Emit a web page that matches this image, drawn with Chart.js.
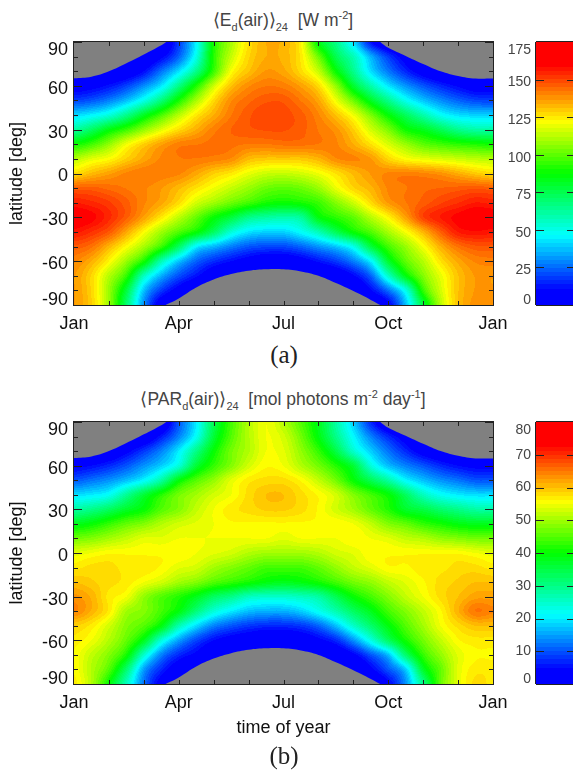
<!DOCTYPE html>
<html>
<head>
<meta charset="utf-8">
<title>Ed and PAR by latitude and time of year</title>
<script src="https://cdn.jsdelivr.net/npm/chart.js@4/dist/chart.umd.js"></script>
<style>
    html, body { margin: 0; padding: 0; background: #fff; overflow: hidden; }
    body { width: 573px; height: 772px; position: relative; font-family: "Liberation Sans", sans-serif; }
    canvas { position: absolute; display: block; }
    .title { position: absolute; left: 0; width: 566px; text-align: center; font-size: 17.5px; color: #444; white-space: nowrap; }
    .title sub, .title sup { font-size: 11px; line-height: 0; }
    .caption { position: absolute; left: 0; width: 568px; text-align: center; font-family: "Liberation Serif", serif; font-size: 25px; color: #222; }
</style>
</head>
<body>
<div class="title" style="top:10px">&#10216;E<sub>d</sub>(air)&#10217;<sub>24</sub>&nbsp;&nbsp;[W m<sup>-2</sup>]</div>
<canvas id="edChart" width="573" height="340" style="left:0;top:0"></canvas>
<canvas id="edBar" width="73" height="340" style="left:500px;top:0"></canvas>
<div class="caption" style="top:341px">(a)</div>

<div class="title" style="top:389px">&#10216;PAR<sub>d</sub>(air)&#10217;<sub>24</sub>&nbsp;&nbsp;[mol photons m<sup>-2</sup> day<sup>-1</sup>]</div>
<canvas id="parChart" width="573" height="363" style="left:0;top:380px"></canvas>
<canvas id="parBar" width="73" height="339" style="left:500px;top:380px"></canvas>
<div class="caption" style="top:742px">(b)</div>

<script>
// months at half month steps, latitudes from north to south
const monthGrid = [0, 0.5, 1, 1.5, 2, 2.5, 3, 3.5, 4, 4.5, 5, 5.5, 6, 6.5, 7, 7.5, 8, 8.5, 9, 9.5, 10, 10.5, 11, 11.5, 12];
const latGrid = [90, 80, 70, 60, 50, 40, 30, 20, 10, 0, -10, -20, -30, -40, -50, -60, -70, -80, -90];

const monthLabels = ['Jan', 'Apr', 'Jul', 'Oct', 'Jan'];
const monthTicks = [1, 2, 3, 4, 5, 6, 7, 8, 9, 10, 11];
const latTicks = [90, 60, 30, 0, -30, -60, -90];
const latMinorTicks = [80, 70, 50, 40, 20, 10, -10, -20, -40, -50, -70, -80];
const edBarTicks = [0, 25, 50, 75, 100, 125, 150, 175];
const parBarTicks = [0, 10, 20, 30, 40, 50, 60, 70, 80];

// one row per latitude, W m-2
const edValues = [
    [0,0,0,0,0,0,18,45,90,110,126,134,133,123,85,66,42,12,0,0,0,0,0,0,0],
    [0,0,0,0,2,9,24,50,92,114,128,134,133,125,102,75,58,35,18,7,0,0,0,0,0],
    [0,0,1,3,11,26,42,65,95,121,131,137,135,127,114,88,65,42,27,15,6,1,0,0,0],
    [6,8,12,19,30,43,66,91,115,131,139,142,141,136,127,107,80,60,43,31,22,15,10,6,6],
    [19,22,28,37,50,68,90,110,127,139,144,147,147,142,135,120,102,82,65,49,38,30,24,20,19],
    [41,45,52,65,82,97,112,125,134,142,147,150,149,146,140,131,120,104,87,73,60,48,42,40,40],
    [62,72,85,95,107,118,127,134,141,145,147,148,148,146,142,138,129,116,104,89,83,74,65,61,61],
    [89,96,107,120,129,136,141,142,143,143,142,142,143,143,142,140,134,126,117,108,100,96,93,91,89],
    [112,118,122,129,135,140,142,142,141,139,132,130,130,130,133,139,140,137,128,122,119,117,115,113,112],
    [127,132,136,140,142,141,140,135,129,125,119,115,114,116,120,126,132,137,140,141,140,138,134,130,127],
    [146,146,144,142,140,137,132,126,120,114,108,102,100,102,108,119,128,133,140,142,144,145,146,147,146],
    [156,154,151,146,140,135,127,116,109,102,96,90,88,90,95,105,115,127,137,142,146,150,153,156,155],
    [163,160,154,146,136,125,113,101,88,78,66,62,60,63,85,93,100,112,123,136,150,156,160,163,162],
    [157,153,147,135,122,109,98,88,72,53,43,40,40,47,58,74,88,98,110,121,133,146,156,158,157],
    [147,143,133,122,110,95,72,45,36,28,22,20,20,24,31,38,50,77,96,108,121,134,143,147,147],
    [140,134,123,108,90,59,38,24,16,11,7,4,4,7,12,18,28,45,80,100,112,126,135,140,141],
    [137,128,112,94,57,35,21,12,4,0,0,0,0,0,0,3,10,24,55,85,105,119,131,137,137],
    [137,128,108,78,38,18,7,0,0,0,0,0,0,0,0,0,1,10,26,50,94,116,131,137,137],
    [137,129,108,70,30,4,0,0,0,0,0,0,0,0,0,0,0,0,8,37,78,112,131,138,138]
];

// same grid, mol photons m-2 day-1
const parValues = [
    [0,0,0,0,0,0,10,20,34,44,51,55,51,45,38,28,18,7,0,0,0,0,0,0,0],
    [0,0,0,0,1,6,13,22,36,45,51,55,53,47,39,30,21,13,7,3,0,0,0,0,0],
    [0,0,1,4,8,13,20,30,40,47,51,55,54,49,43,35,25,18,12,7,3,1,0,0,0],
    [4,5,7,10,14,18,24,36,43,48,53,56,55,51,47,42,36,24,17,13,10,7,5,4,4],
    [10,12,14,17,21,28,39,45,49,54,57,58,58,56,52,47,40,34,28,21,17,14,12,10,10],
    [19,20,22,29,36,42,47,50,53,55,58,60,60,58,56,53,48,44,40,33,26,22,20,19,19],
    [28,30,33,37,40,45,48,52,55,57,58,59,59,58,56,53,50,46,42,37,35,32,30,28,28],
    [38,40,43,46,48,51,53,54,55,56,56,56,56,56,56,56,55,52,48,46,43,41,39,38,38],
    [47,48,50,52,54,54,55,55,55,55,55,55,54,55,55,55,56,55,54,52,51,49,48,47,47],
    [54,55,56,56,56,56,56,55,54,53,51,50,50,50,51,53,54,56,56,56,56,56,56,55,54],
    [57,58,58,57,57,56,54,53,50,48,46,44,44,44,46,49,52,54,56,56,57,57,58,58,57],
    [60,59,58,57,55,53,50,48,45,43,41,39,38,39,41,44,47,49,52,54,56,58,59,60,60],
    [63,61,57,55,49,45,42,38,33,30,26,25,25,26,28,34,40,44,48,52,55,58,60,62,62],
    [64,61,57,50,48,44,39,31,24,20,17,16,16,18,22,27,33,38,44,48,52,56,61,65,64],
    [59,57,53,48,45,39,27,19,13,10,8,7,7,8,11,17,25,32,39,45,50,55,58,60,60],
    [57,55,51,46,38,24,15,9,5,3,2,1,1,2,4,7,14,23,33,41,47,52,56,57,57],
    [56,52,48,41,25,13,7,4,1,0,0,0,0,0,0,1,4,10,17,32,43,49,54,56,56],
    [56,51,45,32,15,7,2,0,0,0,0,0,0,0,0,0,0,4,10,18,37,46,54,57,57],
    [57,51,40,26,12,3,0,0,0,0,0,0,0,0,0,0,0,0,4,14,30,46,54,58,57]
];

// polar night edges, latitude of the grey area against month
const nightSpringMonths = [0, 0.5, 1, 1.5, 2, 2.5, 2.64];
const nightSpringLats = [65.2, 66.3, 70, 75.5, 81.5, 87.8, 90];
const nightAutumnMonths = [8.77, 9, 9.5, 10, 10.5, 11, 11.5, 12];
const nightAutumnLats = [90, 86, 80.5, 75, 70, 66.8, 65, 65];
const nightSouthMonths = [2.62, 3, 3.5, 4, 4.5, 5, 5.5, 6, 6.5, 7, 7.5, 8, 8.5, 8.77];
const nightSouthLats = [-90, -85.5, -78, -72.5, -68.8, -66.5, -65.5, -65.5, -67, -70, -75, -80.5, -86.5, -90];

const colorStops = [
    [0, 0, 0, 255], [0.05, 0, 0, 255], [0.26, 0, 255, 255], [0.5, 0, 255, 0],
    [0.7, 255, 255, 0], [0.92, 255, 0, 0], [1, 255, 0, 0]
];
const colorLevels = 64;
const labelFont = '18px "Liberation Sans"';
const barFont = '14px "Liberation Sans"';

function colorAt(t) {
    // the palette has a fixed number of steps, bands are visible in the original
    t = Math.floor(Math.min(Math.max(t, 0), 0.9999) * colorLevels) / (colorLevels - 1);
    t = Math.min(t, 1);
    for (let i = 1; i < colorStops.length; i++) {
        if (t <= colorStops[i][0]) {
            const a = colorStops[i - 1], b = colorStops[i];
            const f = (t - a[0]) / (b[0] - a[0]);
            return [a[1] + (b[1] - a[1]) * f, a[2] + (b[2] - a[2]) * f, a[3] + (b[3] - a[3]) * f];
        }
    }
    return [255, 0, 0];
}

function cubic(p0, p1, p2, p3, f) {
    return p1 + 0.5 * f * (p2 - p0 + f * (2 * p0 - 5 * p1 + 4 * p2 - p3 + f * (3 * (p1 - p2) + p3 - p0)));
}

// smooth shading between the grid values
function shadeAt(values, month, lat) {
    const fx = Math.min(Math.max(month / (monthGrid[1] - monthGrid[0]), 0), monthGrid.length - 1);
    const fy = Math.min(Math.max((latGrid[0] - lat) / (latGrid[0] - latGrid[1]), 0), latGrid.length - 1);
    const ix = Math.min(Math.floor(fx), monthGrid.length - 2);
    const iy = Math.min(Math.floor(fy), latGrid.length - 2);
    const rows = [];
    for (let r = iy - 1; r <= iy + 2; r++) {
        const row = values[Math.min(Math.max(r, 0), latGrid.length - 1)];
        const col = c => row[Math.min(Math.max(c, 0), monthGrid.length - 1)];
        rows.push(cubic(col(ix - 1), col(ix), col(ix + 1), col(ix + 2), fx - ix));
    }
    return cubic(rows[0], rows[1], rows[2], rows[3], fy - iy);
}

function heatPlugin(values, maxValue) {
    return {
        id: 'heat',
        beforeDatasetsDraw(chart) {
            const area = chart.chartArea, xs = chart.scales.x, ys = chart.scales.y;
            const w = Math.round(area.right - area.left), h = Math.round(area.bottom - area.top);
            const img = chart.ctx.createImageData(w, h);
            for (let j = 0; j < h; j++) {
                const lat = ys.getValueForPixel(area.top + j + 0.5);
                for (let i = 0; i < w; i++) {
                    const month = xs.getValueForPixel(area.left + i + 0.5);
                    const c = colorAt(shadeAt(values, month, lat) / maxValue);
                    const k = (j * w + i) * 4;
                    img.data[k] = c[0];
                    img.data[k + 1] = c[1];
                    img.data[k + 2] = c[2];
                    img.data[k + 3] = 255;
                }
            }
            chart.ctx.putImageData(img, Math.round(area.left), Math.round(area.top));
        }
    };
}

function tickLine(ctx, x1, y1, x2, y2) {
    ctx.beginPath();
    ctx.moveTo(x1, y1);
    ctx.lineTo(x2, y2);
    ctx.stroke();
}

// labels at the two ends of the axis stay inside the frame
function drawSideLabels(chart, ticks, rightX, font, color, shift) {
    const ctx = chart.ctx, area = chart.chartArea;
    ctx.save();
    ctx.font = font;
    ctx.fillStyle = color;
    ctx.textAlign = 'right';
    ctx.textBaseline = 'middle';
    ticks.forEach(t => {
        const y = Math.min(Math.max(chart.scales.y.getPixelForValue(t) + shift, area.top + 8), area.bottom - 5);
        ctx.fillText(String(t), rightX, y);
    });
    ctx.restore();
}

const frameAndTicks = {
    id: 'frameAndTicks',
    afterDraw(chart) {
        const ctx = chart.ctx, area = chart.chartArea, xs = chart.scales.x, ys = chart.scales.y;
        ctx.save();
        ctx.strokeStyle = '#222';
        ctx.lineWidth = 1;
        monthTicks.forEach(m => {
            const x = Math.round(xs.getPixelForValue(m)) + 0.5;
            tickLine(ctx, x, area.top, x, area.top + 4);
            tickLine(ctx, x, area.bottom, x, area.bottom - 4);
        });
        latTicks.concat(latMinorTicks).forEach(lat => {
            const y = Math.round(ys.getPixelForValue(lat)) + 0.5;
            const len = latTicks.includes(lat) ? 8 : 4;
            tickLine(ctx, area.left, y, area.left + len, y);
            tickLine(ctx, area.right, y, area.right - len, y);
        });
        ctx.strokeRect(Math.round(area.left) - 0.5, Math.round(area.top) - 0.5,
            Math.round(area.right - area.left) + 1, Math.round(area.bottom - area.top) + 1);
        ctx.restore();
        drawSideLabels(chart, latTicks, 68, labelFont, '#111', 3);
    }
};

function nightSet(months, lats, fillTo) {
    return {
        data: months.map((m, i) => ({ x: m, y: lats[i] })),
        showLine: true,
        fill: fillTo,
        tension: 0.4,
        borderWidth: 0,
        pointRadius: 0,
        backgroundColor: '#808080'
    };
}

function makeHeatChart(id, values, maxValue, bottomHeight, xTitle) {
    new Chart(document.getElementById(id), {
        type: 'scatter',
        data: {
            datasets: [
                nightSet(nightSpringMonths, nightSpringLats, 'end'),
                nightSet(nightAutumnMonths, nightAutumnLats, 'end'),
                nightSet(nightSouthMonths, nightSouthLats, 'start')
            ]
        },
        options: {
            responsive: false,
            animation: false,
            layout: { padding: { top: 42, right: 80, left: 0, bottom: 0 } },
            plugins: { legend: { display: false }, tooltip: { enabled: false } },
            scales: {
                x: {
                    type: 'linear',
                    min: 0,
                    max: 12,
                    grid: { display: false },
                    border: { display: false },
                    ticks: {
                        stepSize: 3,
                        maxRotation: 0,
                        padding: 0,
                        color: '#111',
                        font: { family: 'Liberation Sans', size: 18 },
                        callback: v => monthLabels[v / 3]
                    },
                    title: {
                        display: !!xTitle,
                        text: xTitle,
                        color: '#111',
                        font: { family: 'Liberation Sans', size: 18 }
                    },
                    afterFit: scale => { scale.height = bottomHeight; }
                },
                y: {
                    type: 'linear',
                    min: -90,
                    max: 90,
                    grid: { display: false },
                    border: { display: false },
                    ticks: { display: false },
                    title: {
                        display: true,
                        text: 'latitude [deg]',
                        color: '#111',
                        padding: { top: 6, bottom: 0 },
                        font: { family: 'Liberation Sans', size: 18 }
                    },
                    afterFit: scale => { scale.width = 74; }
                }
            }
        },
        plugins: [heatPlugin(values, maxValue), frameAndTicks]
    });
}

function makeColorBar(id, maxValue, barTicks, labelShift, bottomPad) {
    new Chart(document.getElementById(id), {
        type: 'bar',
        data: {
            labels: [''],
            datasets: [{
                data: [maxValue],
                barPercentage: 1,
                categoryPercentage: 1,
                backgroundColor(c) {
                    const area = c.chart.chartArea;
                    if (!area) return '#00f';
                    const g = c.chart.ctx.createLinearGradient(0, area.bottom, 0, area.top);
                    for (let i = 0; i < colorLevels; i++) {
                        const rgb = colorAt((i + 0.5) / colorLevels);
                        const css = `rgb(${rgb[0]},${rgb[1]},${rgb[2]})`;
                        g.addColorStop(i / colorLevels, css);
                        g.addColorStop((i + 1) / colorLevels, css);
                    }
                    return g;
                }
            }]
        },
        options: {
            responsive: false,
            animation: false,
            layout: { padding: { top: 42, bottom: bottomPad, left: 0, right: 0 } },
            plugins: { legend: { display: false }, tooltip: { enabled: false } },
            scales: {
                x: { display: false },
                y: {
                    min: 0,
                    max: maxValue,
                    grid: { display: false },
                    border: { display: false },
                    ticks: { display: false },
                    afterFit: scale => { scale.width = 36; }
                }
            }
        },
        plugins: [{
            id: 'barMarks',
            afterDraw(chart) {
                const ctx = chart.ctx, area = chart.chartArea;
                ctx.save();
                ctx.strokeStyle = '#222';
                barTicks.slice(1, -1).forEach(t => {
                    const y = Math.round(chart.scales.y.getPixelForValue(t)) + 0.5;
                    tickLine(ctx, area.left, y, area.left + 8, y);
                    tickLine(ctx, area.right - 6, y, area.right, y);
                });
                tickLine(ctx, area.left - 0.5, area.top, area.left - 0.5, area.bottom);
                tickLine(ctx, area.left, area.top - 0.5, area.right, area.top - 0.5);
                tickLine(ctx, area.left, area.bottom + 0.5, area.right, area.bottom + 0.5);
                ctx.restore();
                drawSideLabels(chart, barTicks, 31, barFont, '#444', labelShift);
            }
        }]
    });
}

makeHeatChart('edChart', edValues, 175, 35, '');
makeColorBar('edBar', 175, edBarTicks, 3, 35);
makeHeatChart('parChart', parValues, 80, 59, 'time of year');
makeColorBar('parBar', 80, parBarTicks, 0, 35);
</script>
</body>
</html>
